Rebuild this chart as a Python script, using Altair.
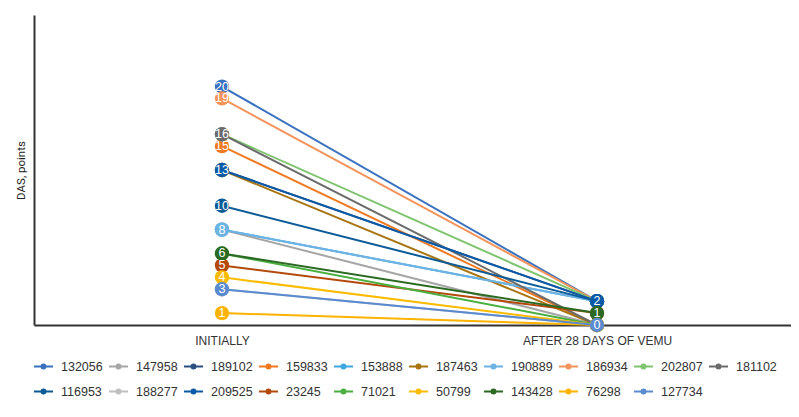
import altair as alt
import pandas as pd

periods = ["INITIALLY", "AFTER 28 DAYS OF VEMU"]
series = ["132056", "147958", "189102", "159833", "153888", "187463", "190889",
          "186934", "202807", "181102", "116953", "188277", "209525", "23245",
          "71021", "50799", "143428", "76298", "127734"]
initial = [20, 8, 13, 15, 8, 13, 8, 19, 16, 16, 10, 3, 13, 5, 6, 4, 6, 1, 3]
after = [2, 0, 2, 0, 2, 0, 2, 2, 2, 0, 2, 0, 2, 1, 0, 0, 1, 0, 0]
colors = ["#3a72c0", "#a6a6a6", "#2a4f80", "#f07a21", "#3ea6e0", "#a87410",
          "#6db3e3", "#f4935a", "#7fc46f", "#6b6b6b", "#0b5b96", "#bfbfbf",
          "#0a5aa8", "#b34a0c", "#49b040", "#fbbb00", "#2b6a22", "#fdb300",
          "#5a8ad0"]

rows = []
for i, (s, a, b) in enumerate(zip(series, initial, after)):
    rows.append({"id": s, "period": periods[0], "value": a, "z": i})
    rows.append({"id": s, "period": periods[1], "value": b, "z": i})
df = pd.DataFrame(rows)

legend_path = ("M-1,0L1,0"
               "M-0.21,0A0.21,0.21,0,1,0,0.21,0A0.21,0.21,0,1,0,-0.21,0"
               "M-0.06,0A0.06,0.06,0,1,0,0.06,0A0.06,0.06,0,1,0,-0.06,0")

x_enc = alt.X("period:N", sort=periods,
              scale=alt.Scale(type="point", padding=0.5093, align=0.4921),
              axis=alt.Axis(title=None, labelAngle=0, ticks=False, grid=False,
                            domainColor="#333333", domainWidth=2,
                            labelFontSize=12, labelColor="#333333",
                            labelPadding=10, labelFont="Liberation Sans"))
y_enc = alt.Y("value:Q", scale=alt.Scale(domain=[0, 26], nice=False, zero=True),
              axis=alt.Axis(title="DAS, points", labels=False, ticks=False,
                            grid=False, domainColor="#333333", domainWidth=2,
                            titleFontSize=11.5, titleFontWeight="normal",
                            titleColor="#222222", titleFont="Roboto",
                            titlePadding=8))
color_scale = alt.Scale(domain=series, range=colors)

lines = alt.Chart(df).mark_line(strokeWidth=2).encode(
    x=x_enc, y=y_enc,
    color=alt.Color("id:N", scale=color_scale, sort=series,
                    legend=alt.Legend(title=None, orient="none", legendX=-1,
                                      legendY=341, direction="horizontal",
                                      columns=10, gridAlign="each",
                                      symbolType=legend_path, symbolSize=361,
                                      symbolStrokeWidth=2, labelOffset=7,
                                      columnPadding=2, rowPadding=8,
                                      labelFontSize=12.5, labelColor="#333333",
                                      labelFont="Liberation Sans", padding=0)),
    order="z:Q",
)

points = alt.Chart(df).mark_circle(size=205, opacity=1).encode(
    x=x_enc, y=y_enc,
    color=alt.Color("id:N", scale=color_scale, legend=None),
    order="z:Q",
)

texts = alt.Chart(df).transform_aggregate(
    n="count()", groupby=["period", "value"]
).mark_text(color="white", fontSize=12.5, font="Liberation Sans",
            baseline="middle", align="center").encode(
    x=x_enc, y=y_enc, text="value:Q",
)

chart = alt.layer(lines, points, texts).properties(
    width=757, height=310,
    autosize=alt.AutoSizeParams(type="none"),
    padding={"left": 26, "top": 7, "right": 0, "bottom": 84},
).configure(background="white").configure_view(stroke=None)

chart.save("out.html", embed_options={"renderer": "svg", "actions": False})
